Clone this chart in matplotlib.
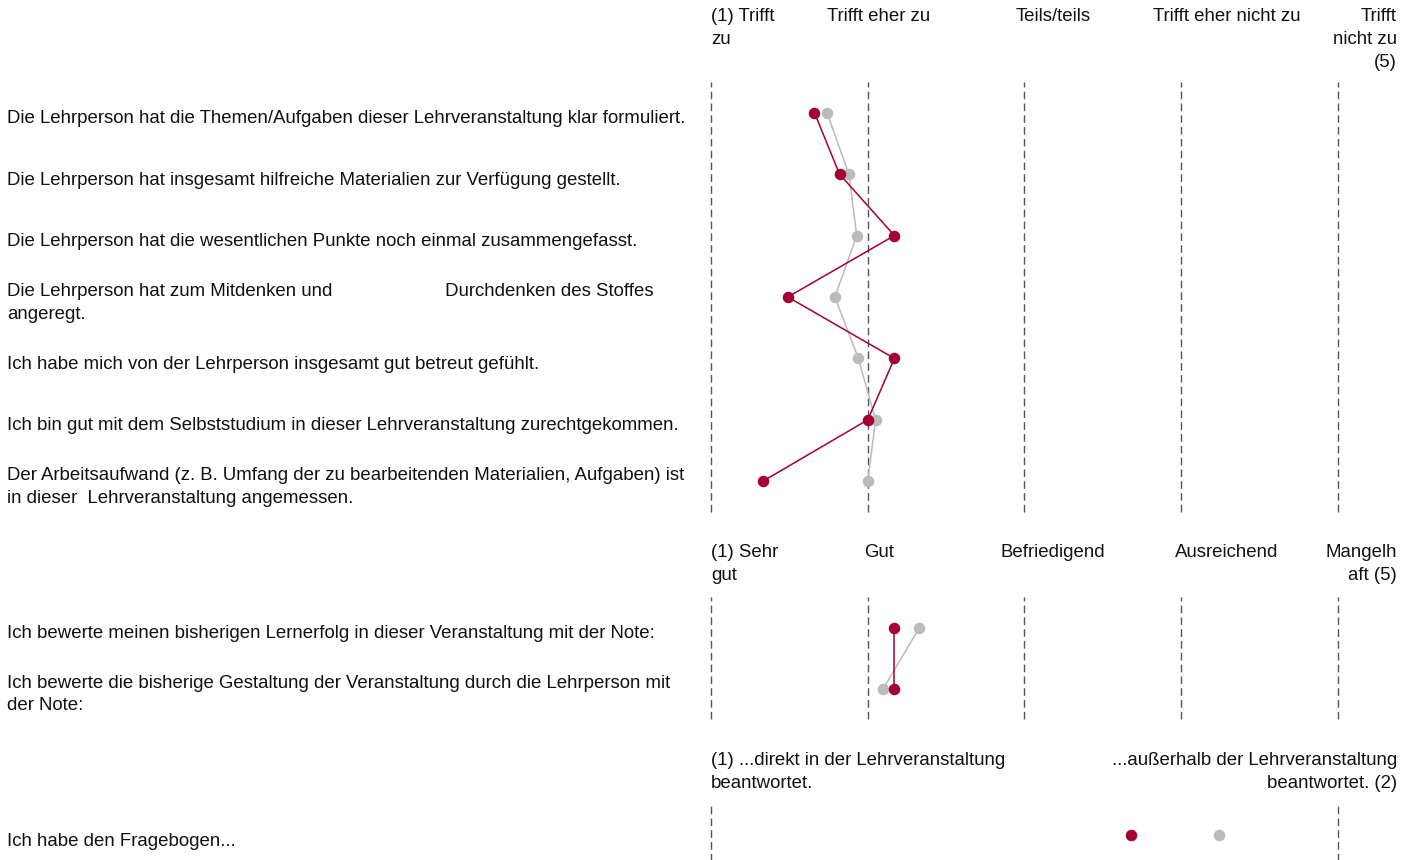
import matplotlib
matplotlib.use("Agg")
import matplotlib.pyplot as plt

plt.rcParams['font.family'] = ['Liberation Sans', 'DejaVu Sans']

RED = '#a50034'
GREY = '#bbbbbb'
TXT = '#111111'
FS = 13.4
LS = 1.45

# --- data ---
items_1 = [
    "Die Lehrperson hat die Themen/Aufgaben dieser Lehrveranstaltung klar formuliert.",
    "Die Lehrperson hat insgesamt hilfreiche Materialien zur Verfügung gestellt.",
    "Die Lehrperson hat die wesentlichen Punkte noch einmal zusammengefasst.",
    "Die Lehrperson hat zum Mitdenken und" + " " * 22 + "Durchdenken des Stoffes\nangeregt.",
    "Ich habe mich von der Lehrperson insgesamt gut betreut gefühlt.",
    "Ich bin gut mit dem Selbststudium in dieser Lehrveranstaltung zurechtgekommen.",
    "Der Arbeitsaufwand (z. B. Umfang der zu bearbeitenden Materialien, Aufgaben) ist\n"
    "in dieser  Lehrveranstaltung angemessen.",
]
red_1 = [1.66, 1.82, 2.17, 1.49, 2.17, 2.00, 1.33]
grey_1 = [1.74, 1.88, 1.93, 1.79, 1.94, 2.05, 2.00]
scale_1 = ["(1) Trifft\nzu", "Trifft eher zu", "Teils/teils", "Trifft eher nicht zu", "Trifft\nnicht zu\n(5)"]

items_2 = [
    "Ich bewerte meinen bisherigen Lernerfolg in dieser Veranstaltung mit der Note:",
    "Ich bewerte die bisherige Gestaltung der Veranstaltung durch die Lehrperson mit\nder Note:",
]
red_2 = [2.17, 2.17]
grey_2 = [2.33, 2.10]
scale_2 = ["(1) Sehr\ngut", "Gut", "Befriedigend", "Ausreichend", "Mangelh\naft (5)"]

items_3 = ["Ich habe den Fragebogen..."]
red_3 = [1.67]
grey_3 = [1.81]
scale_3 = ["(1) ...direkt in der Lehrveranstaltung\nbeantwortet.",
           "...außerhalb der Lehrveranstaltung\nbeantwortet. (2)"]

W, H = 1412, 860
fig = plt.figure(figsize=(W / 100, H / 100), dpi=100)


def px(x, y):
    return x / W, 1 - y / H


def panel(top, bottom, items, red, grey, ticks, xlim, header, header_y):
    left, right = 711, 1338
    ax = fig.add_axes([left / W, 1 - bottom / H, (right - left) / W, (bottom - top) / H])
    n = len(items)
    rows = list(range(n))
    ax.set_xlim(*xlim)
    ax.set_ylim(n - 0.5, -0.5)
    for t in ticks:
        ax.axvline(t, color='#555555', lw=1.0, ls=(0, (5.5, 3)), zorder=1, clip_on=False)
    ax.plot(grey, rows, color=GREY, lw=1.1, marker='o', ms=7.3, zorder=2, clip_on=False)
    ax.plot(red, rows, color=RED, lw=1.1, marker='o', ms=7.3, zorder=3, clip_on=False)
    ax.axis('off')
    for r, lab in zip(rows, items):
        ax.annotate(lab, xy=(7 / W, r), xycoords=('figure fraction', 'data'),
                    xytext=(0, -6), textcoords='offset pixels',
                    ha='left', va='center', fontsize=FS, color=TXT, linespacing=LS)
    for (x, ha), lab in zip(header, header_y[1]):
        fx, fy = px(x, header_y[0])
        fig.text(fx, fy, lab, ha=ha, va='top', fontsize=FS, color=TXT, linespacing=LS)
    return ax


hdr5 = [(711, 'left'), (879, 'center'), (1053, 'center'), (1227, 'center'), (1397, 'right')]
panel(82, 512, items_1, red_1, grey_1, [1, 2, 3, 4, 5], (1, 5), hdr5, (8, scale_1))
panel(597, 719, items_2, red_2, grey_2, [1, 2, 3, 4, 5], (1, 5), hdr5, (544, scale_2))
panel(805, 866, items_3, red_3, grey_3, [1, 2], (1, 2), [(711, 'left'), (1397, 'right')], (752, scale_3))

fig.savefig("out.png", dpi=100)
